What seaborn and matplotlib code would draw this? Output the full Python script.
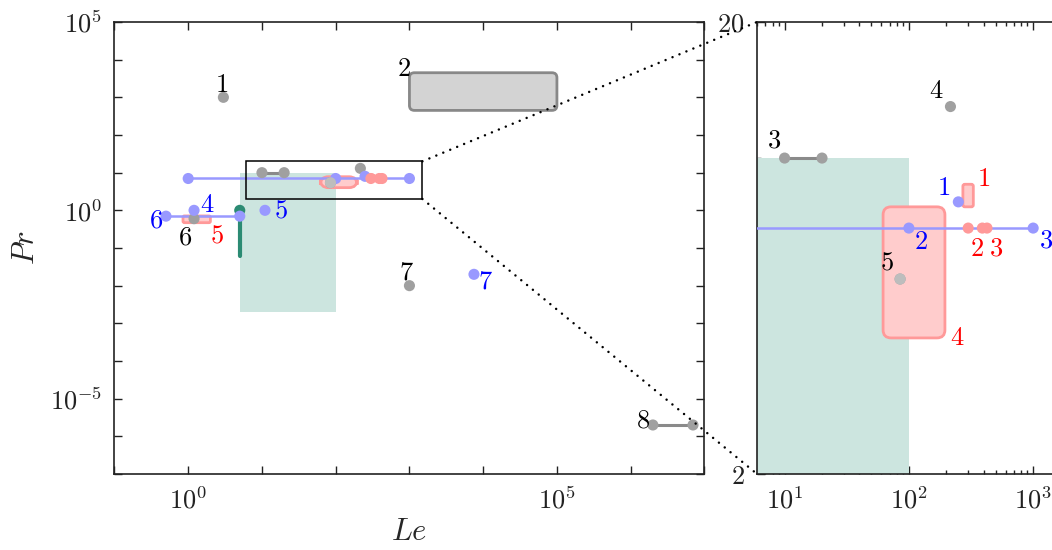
import numpy as np
import pandas as pd
import matplotlib
matplotlib.use("Agg")
import matplotlib.pyplot as plt
import seaborn as sns
from matplotlib.patches import FancyBboxPatch, Rectangle, ConnectionPatch
from matplotlib.ticker import FixedLocator, FixedFormatter, NullFormatter, LogLocator

# ---------------------------------------------------------------- data
# grey entries (black numbers)
gray_pt_le = [3, 216, 85, 1.2, 1000]
gray_pt_pr = [1000, 13, 5.4, 0.6, 0.01]
gray_pt_id = ["1", "4", "5", "6", "7"]
gray_seg_le = [[10, 20], [2e6, 7e6]]
gray_seg_pr = [10, 2e-6]
gray_seg_id = ["3", "8"]
gray_box_le = [1e3, 1e5]
gray_box_pr = [450, 4500]
gray_box_id = "2"

# blue entries
blue_pt_le = [250, 1.2, 11, 7500]
blue_pt_pr = [8, 1, 1, 0.02]
blue_pt_id = ["1", "4", "5", "7"]
blue_line_le = [1, 100, 1000]
blue_line_pr = 7
blue_line_id = [None, "2", "3"]
blue_seg_le = [0.5, 5]
blue_seg_pr = 0.7
blue_seg_id = "6"

# red entries
red_pt_le = [300, 390, 425]
red_pt_pr = 7
red_box1_le = [272, 330]
red_box1_pr = [7.8, 8.75]
red_box4_le = [62, 195]
red_box4_pr = [4.0, 7.8]
red_box5_le = [0.85, 2.0]
red_box5_pr = [0.47, 0.71]

# teal range and line
teal_region_le = [5, 100]
teal_region_pr = [0.002, 10]
teal_line_le = 5
teal_line_pr = [0.06, 1]

# axis ranges and tick labels
main_xlim = [1e-1, 1e7]
main_ylim = [1e-7, 1e5]
main_xtick_vals = [1, 1e5]
main_xtick_labels = [r"$10^{0}$", r"$10^{5}$"]
main_ytick_vals = [1e-5, 1, 1e5]
main_ytick_labels = [r"$10^{-5}$", r"$10^{0}$", r"$10^{5}$"]
zoom_xlim = [6, 1500]
zoom_ylim = [2, 20]
zoom_xtick_vals = [10, 100, 1000]
zoom_xtick_labels = [r"$10^{1}$", r"$10^{2}$", r"$10^{3}$"]
zoom_ytick_vals = [2, 20]
zoom_ytick_labels = [r"$2$", r"$20$"]

# ---------------------------------------------------------------- style
sns.set_theme(style="ticks")
plt.rcParams["mathtext.fontset"] = "cm"
plt.rcParams["font.family"] = ["DejaVu Serif"]
plt.rcParams["axes.linewidth"] = 1.2
plt.rcParams["axes.edgecolor"] = "#222222"

GRAY_DOT = "#a0a0a0"
GRAY_LINE = "#8a8a8a"
BLUE_DOT = "#9999ff"
BLUE_TXT = "#0000ff"
RED_DOT = "#ff9999"
RED_FILL = "#ffcccc"
RED_TXT = "#ff0000"
TEAL = "#2b8b73"
TEAL_FILL = "#cce5df"
DOT_S = 64
NUM_FS = 19

fig = plt.figure(figsize=(10.52, 5.5), dpi=100)
ax = fig.add_axes([0.1088, 0.1382, 0.5608, 0.8218])
axin = fig.add_axes([0.7196, 0.1382, 0.2833, 0.8218])

for a, xl, yl in ((ax, main_xlim, main_ylim), (axin, zoom_xlim, zoom_ylim)):
    a.set_xscale("log")
    a.set_yscale("log")
    a.set_xlim(xl)
    a.set_ylim(yl)


def rounded_box(a, le, pr, radius_px, fc, ec, lw, z):
    to_axes = a.transData + a.transAxes.inverted()
    (x0, y0), (x1, y1) = to_axes.transform([(le[0], pr[0]), (le[1], pr[1])])
    bb = a.get_window_extent()
    patch = FancyBboxPatch((x0, y0), x1 - x0, y1 - y0,
                           boxstyle=f"round,pad=0,rounding_size={radius_px / bb.width}",
                           mutation_aspect=bb.width / bb.height,
                           transform=a.transAxes, fc=fc, ec=ec, lw=lw, zorder=z)
    a.add_patch(patch)


def number(a, text, x, y, dx, dy, color):
    a.annotate(rf"${text}$", (x, y), xytext=(dx, dy), textcoords="offset pixels",
               ha="center", va="center", fontsize=NUM_FS, color=color,
               zorder=10, annotation_clip=False)


def draw_marks(a):
    # teal range
    a.add_patch(Rectangle((teal_region_le[0], teal_region_pr[0]),
                          teal_region_le[1] - teal_region_le[0],
                          teal_region_pr[1] - teal_region_pr[0],
                          fc=TEAL_FILL, ec="none", zorder=1))
    sns.lineplot(x=[teal_line_le, teal_line_le], y=teal_line_pr, ax=a, color=TEAL,
                 lw=3, estimator=None, sort=False, zorder=3)
    sns.scatterplot(x=[teal_line_le], y=[teal_line_pr[1]], ax=a, color=TEAL,
                    s=DOT_S, edgecolor="none", zorder=4, legend=False)

    # boxes
    rounded_box(a, gray_box_le, gray_box_pr, 5, "#d3d3d3", "#888888", 2, 2)
    rounded_box(a, red_box4_le, red_box4_pr, 8, RED_FILL, RED_DOT, 2, 2)
    rounded_box(a, red_box1_le, red_box1_pr, 2, RED_FILL, RED_DOT, 2, 2)
    rounded_box(a, red_box5_le, red_box5_pr, 1.5, RED_FILL, RED_DOT, 2, 2)

    # blue lines
    sns.lineplot(x=blue_line_le, y=[blue_line_pr] * len(blue_line_le), ax=a,
                 color=BLUE_DOT, lw=1.8, estimator=None, sort=False, zorder=3)
    sns.lineplot(x=blue_seg_le, y=[blue_seg_pr] * 2, ax=a,
                 color=BLUE_DOT, lw=1.8, estimator=None, sort=False, zorder=3)

    # grey segments
    for le, pr in zip(gray_seg_le, gray_seg_pr):
        sns.lineplot(x=le, y=[pr, pr], ax=a, color=GRAY_LINE, lw=2.2,
                     estimator=None, sort=False, zorder=3)

    # dots
    seg_le = [v for pair in gray_seg_le for v in pair]
    seg_pr = [p for p in gray_seg_pr for _ in range(2)]
    gray = pd.DataFrame({"Le": gray_pt_le + seg_le, "Pr": gray_pt_pr + seg_pr})
    sns.scatterplot(data=gray, x="Le", y="Pr", ax=a, color=GRAY_DOT, s=DOT_S,
                    edgecolor="none", zorder=5, legend=False)
    blue = pd.DataFrame({"Le": blue_pt_le + blue_line_le + blue_seg_le,
                         "Pr": blue_pt_pr + [blue_line_pr] * len(blue_line_le)
                         + [blue_seg_pr] * 2})
    sns.scatterplot(data=blue, x="Le", y="Pr", ax=a, color=BLUE_DOT, s=DOT_S,
                    edgecolor="none", zorder=5, legend=False)
    sns.scatterplot(x=red_pt_le, y=[red_pt_pr] * len(red_pt_le), ax=a,
                    color=RED_DOT, s=DOT_S, edgecolor="none", zorder=6, legend=False)
    a.set_xlabel("")
    a.set_ylabel("")


draw_marks(ax)
draw_marks(axin)
for a, xl, yl in ((ax, main_xlim, main_ylim), (axin, zoom_xlim, zoom_ylim)):
    a.set_xlim(xl)
    a.set_ylim(yl)

# lighter grey dot sitting inside the red box
for a in (ax, axin):
    sns.scatterplot(x=[gray_pt_le[2]], y=[gray_pt_pr[2]], ax=a, color="#bdbdbd",
                    s=DOT_S, edgecolor="none", zorder=7, legend=False)

# ---------------------------------------------------------------- numbers
g = dict(zip(gray_pt_id, zip(gray_pt_le, gray_pt_pr)))
b = dict(zip(blue_pt_id, zip(blue_pt_le, blue_pt_pr)))
K = "black"
number(ax, "1", *g["1"], -2, 13, K)
number(ax, gray_box_id, gray_box_le[0], gray_box_pr[1], -6, 4, K)
number(ax, "6", *g["6"], -9, -18, K)
number(ax, "7", *g["7"], -3, 14, K)
number(ax, gray_seg_id[1], gray_seg_le[1][0], gray_seg_pr[1], -10, 5, K)
number(ax, "4", *b["4"], 13, 6, BLUE_TXT)
number(ax, "5", *b["5"], 16, 0, BLUE_TXT)
number(ax, blue_seg_id, blue_seg_le[0], blue_seg_pr, -10, -4, BLUE_TXT)
number(ax, "7", *b["7"], 11, -7, BLUE_TXT)
number(ax, "5", red_box5_le[1], red_box5_pr[0], 7, -12, RED_TXT)

number(axin, gray_seg_id[0], gray_seg_le[0][0], gray_seg_pr[0], -11, 18, K)
number(axin, "4", *g["4"], -14, 16, K)
number(axin, "5", *g["5"], -13, 17, K)
number(axin, "1", *b["1"], -15, 14, BLUE_TXT)
number(axin, blue_line_id[1], blue_line_le[1], blue_line_pr, 12, -13, BLUE_TXT)
number(axin, blue_line_id[2], blue_line_le[2], blue_line_pr, 13, -12, BLUE_TXT)
number(axin, "1", red_box1_le[1], red_box1_pr[1], 10, 6, RED_TXT)
number(axin, "2", red_pt_le[0], red_pt_pr, 9, -20, RED_TXT)
number(axin, "3", red_pt_le[2], red_pt_pr, 9, -20, RED_TXT)
number(axin, "4", red_box4_le[1], red_box4_pr[0], 12, 0, RED_TXT)

# ---------------------------------------------------------------- axes
tick_kw = dict(direction="in", top=True, colors="#222222", labelsize=19, width=1.0)
ax.xaxis.set_major_locator(FixedLocator(main_xtick_vals))
ax.xaxis.set_major_formatter(FixedFormatter(main_xtick_labels))
ax.xaxis.set_minor_locator(FixedLocator(10.0 ** np.arange(-1, 8)))
ax.xaxis.set_minor_formatter(NullFormatter())
ax.yaxis.set_major_locator(FixedLocator(main_ytick_vals))
ax.yaxis.set_major_formatter(FixedFormatter(main_ytick_labels))
ax.yaxis.set_minor_locator(FixedLocator(10.0 ** np.arange(-7, 6)))
ax.yaxis.set_minor_formatter(NullFormatter())
ax.tick_params(which="major", length=6, pad=9, right=True, **tick_kw)
ax.tick_params(which="minor", length=6, right=True, **tick_kw)
ax.set_xlabel(r"$Le$", fontsize=22, labelpad=2)
ax.set_ylabel(r"$Pr$", fontsize=22, labelpad=6)

axin.xaxis.set_major_locator(FixedLocator(zoom_xtick_vals))
axin.xaxis.set_major_formatter(FixedFormatter(zoom_xtick_labels))
axin.xaxis.set_minor_locator(LogLocator(base=10, subs=np.arange(2, 10)))
axin.xaxis.set_minor_formatter(NullFormatter())
axin.yaxis.set_major_locator(FixedLocator(zoom_ytick_vals))
axin.yaxis.set_major_formatter(FixedFormatter(zoom_ytick_labels))
axin.yaxis.set_minor_locator(FixedLocator(np.arange(3, 11)))
axin.yaxis.set_minor_formatter(NullFormatter())
axin.tick_params(which="major", length=6, pad=9, right=False, **tick_kw)
axin.tick_params(which="minor", length=3, right=False, **tick_kw)

# ---------------------------------------------------------------- zoom frame
ax.add_patch(Rectangle((zoom_xlim[0], zoom_ylim[0]), zoom_xlim[1] - zoom_xlim[0],
                       zoom_ylim[1] - zoom_ylim[0], fc="none", ec="black",
                       lw=1.1, zorder=9))
for ya in zoom_ylim:
    con = ConnectionPatch(xyA=(zoom_xlim[1], ya), coordsA=ax.transData,
                          xyB=(zoom_xlim[0], ya), coordsB=axin.transData,
                          color="black", lw=1.8, linestyle=(0, (0.01, 3.0)),
                          capstyle="round")
    fig.add_artist(con)

fig.savefig("out.png", dpi=100)
